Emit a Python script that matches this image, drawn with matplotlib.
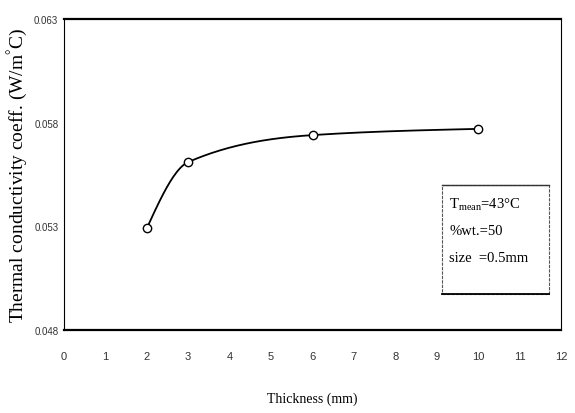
import numpy as np
import matplotlib

matplotlib.use("Agg")
from matplotlib import pyplot as plt
from matplotlib.patches import Rectangle

plt.rcParams["mathtext.fontset"] = "custom"
plt.rcParams["mathtext.rm"] = "Liberation Serif"
plt.rcParams["mathtext.it"] = "Liberation Serif:italic"

# datos
espesor = [2, 3, 6, 10]
conductividad = [0.0529, 0.0561, 0.0574, 0.0577]

x_ticks = [0, 1, 2, 3, 4, 5, 6, 7, 8, 9, 10, 11, 12]
x_ticklabels = ["0", "1", "2", "3", "4", "5", "6", "7", "8", "9", "10", "11", "12"]
y_ticks = [0.048, 0.053, 0.058, 0.063]
y_ticklabels = ["0.048", "0.053", "0.058", "0.063"]

condiciones = [r"T$_{\rm mean}$=43$\degree$C", "%wt.=50", "size  =0.5mm"]


def curva_suave(x, y, n=200):
    # hermite monotona (tipo pchip) solo para dibujar la linea
    x = np.asarray(x, dtype=float)
    y = np.asarray(y, dtype=float)
    h = np.diff(x)
    d = np.diff(y) / h
    m = np.zeros_like(y)
    for k in range(1, len(x) - 1):
        if d[k - 1] * d[k] > 0:
            w1 = 2 * h[k] + h[k - 1]
            w2 = h[k] + 2 * h[k - 1]
            m[k] = (w1 + w2) / (w1 / d[k - 1] + w2 / d[k])
    m[0] = d[0] * 1.5 - m[1] * 0.5
    m[-1] = d[-1] * 1.5 - m[-2] * 0.5
    xs = np.linspace(x[0], x[-1], n)
    idx = np.clip(np.searchsorted(x, xs) - 1, 0, len(x) - 2)
    t = (xs - x[idx]) / h[idx]
    h00 = 2 * t**3 - 3 * t**2 + 1
    h10 = t**3 - 2 * t**2 + t
    h01 = -2 * t**3 + 3 * t**2
    h11 = t**3 - t**2
    ys = h00 * y[idx] + h10 * h[idx] * m[idx] + h01 * y[idx + 1] + h11 * h[idx] * m[idx + 1]
    return xs, ys


fig = plt.figure(figsize=(5.75, 4.14), dpi=100)
ax = fig.add_axes([0.111, 0.200, 0.865, 0.752])

xs, ys = curva_suave(espesor, conductividad)
ax.plot(xs, ys, color="black", lw=1.3, zorder=2)
ax.plot(espesor, conductividad, "o", ms=6, mfc="white", mec="black", mew=1.0, zorder=3)

ax.set_xlim(0, 12)
ax.set_ylim(0.048, 0.063)
ax.set_xticks(x_ticks)
ax.set_xticklabels(x_ticklabels, fontsize=8, family="Liberation Sans")
ax.set_yticks(y_ticks)
ax.set_yticklabels(y_ticklabels, fontsize=7, family="Liberation Sans")
ax.tick_params(axis="x", length=0, pad=15, colors="#333333")
ax.tick_params(axis="y", length=0, pad=4, colors="#333333")

for lado in ["top", "bottom"]:
    ax.spines[lado].set_linewidth(1.6)
for lado in ["left", "right"]:
    ax.spines[lado].set_linewidth(0.8)

ax.set_xlabel("Thickness (mm)", fontsize=10, family="Liberation Serif", labelpad=22)
ax.set_ylabel(r"Thermal conductivity coeff. (W/m$^{\degree}$C)", fontsize=14,
              family="Liberation Serif", labelpad=3)

# cuadro de condiciones
caja = Rectangle((0.761, 0.116), 0.215, 0.350, transform=ax.transAxes,
                 fill=False, ec="#555555", lw=0.8, ls=(0, (3, 1)))
ax.add_patch(caja)
ax.plot([0.761, 0.976], [0.116, 0.116], transform=ax.transAxes, color="black", lw=1.3)
ax.plot([0.761, 0.976], [0.466, 0.466], transform=ax.transAxes, color="#333333", lw=1.0)

for i, linea in enumerate(condiciones):
    ax.text(0.775, 0.405 - i * 0.085, linea, transform=ax.transAxes,
            fontsize=10.5, family="Liberation Serif", va="center", ha="left")

plt.savefig("out.png", dpi=100)
